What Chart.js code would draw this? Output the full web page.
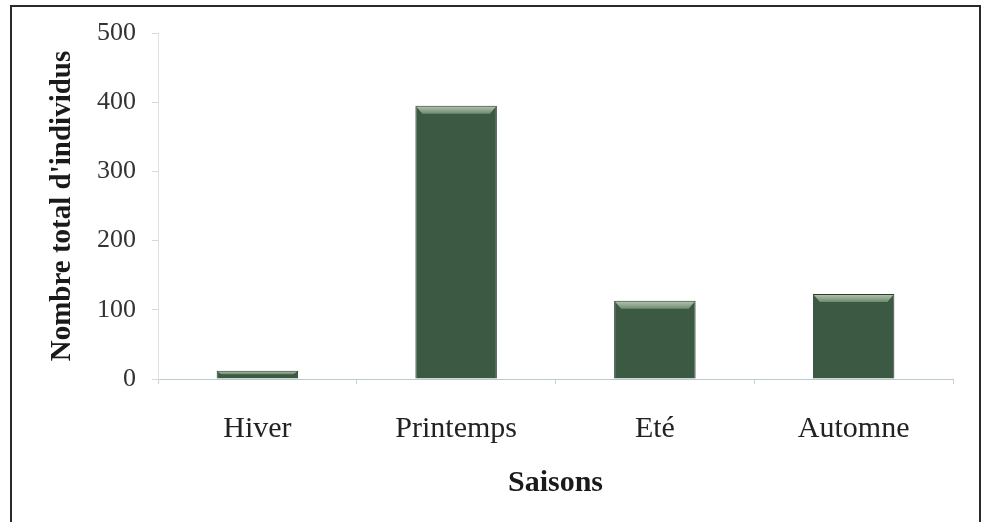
<!DOCTYPE html>
<html>
<head>
<meta charset="utf-8">
<script src="https://cdn.jsdelivr.net/npm/chart.js@4/dist/chart.umd.min.js"></script>
<style>
  html, body { margin: 0; padding: 0; background: #fff; overflow: hidden; }
  #wrap { position: relative; width: 982px; height: 522px; }
</style>
</head>
<body>
<div id="wrap"><canvas id="c" width="982" height="522"></canvas></div>
<script>
// Total number of individuals per season
const seasons = ['Hiver', 'Printemps', 'Eté', 'Automne'];
const totals = [12, 395, 113, 123];
const yTicks = [0, 100, 200, 300, 400, 500];

const serif = '"Liberation Serif", "Times New Roman", serif';

// Frame around the figure
const framePlugin = {
  id: 'frame',
  afterDraw(chart) {
    const ctx = chart.ctx;
    ctx.save();
    ctx.strokeStyle = '#2a2a2a';
    ctx.lineWidth = 2;
    ctx.strokeRect(11, 6, 969, 530);
    ctx.restore();
  }
};

// Lighter bevelled cap on top of each bar
const bevelPlugin = {
  id: 'bevel',
  afterDatasetsDraw(chart) {
    const ctx = chart.ctx;
    const meta = chart.getDatasetMeta(0);
    ctx.save();
    meta.data.forEach(bar => {
      const p = bar.getProps(['x', 'y', 'base', 'width'], true);
      const left = p.x - p.width / 2, right = p.x + p.width / 2;
      const h = Math.min(8, (p.base - p.y) * 0.45);
      const inset = Math.min(6, h);
      const g = ctx.createLinearGradient(0, p.y, 0, p.y + h);
      g.addColorStop(0, '#b9c9b2');
      g.addColorStop(1, '#6f8a70');
      ctx.fillStyle = g;
      ctx.beginPath();
      ctx.moveTo(left + 1, p.y + 1);
      ctx.lineTo(right - 1, p.y + 1);
      ctx.lineTo(right - 1 - inset, p.y + h);
      ctx.lineTo(left + 1 + inset, p.y + h);
      ctx.closePath();
      ctx.fill();
    });
    ctx.restore();
  }
};

new Chart(document.getElementById('c'), {
  type: 'bar',
  data: {
    labels: seasons,
    datasets: [{
      data: totals,
      backgroundColor: '#3c5943',
      borderColor: '#2b3f31',
      borderWidth: 1,
      barPercentage: 0.41,
      categoryPercentage: 1
    }]
  },
  options: {
    responsive: false,
    animation: false,
    layout: { padding: { top: 33, right: 29, bottom: 10, left: 20 } },
    plugins: { legend: { display: false }, tooltip: { enabled: false } },
    scales: {
      x: {
        grid: {
          display: true, drawOnChartArea: false, drawTicks: true,
          tickLength: 5, offset: true, color: '#c9d3d3'
        },
        border: { display: true, color: '#b8cccc', width: 1 },
        ticks: { color: '#222', font: { family: serif, size: 30 }, padding: 27 },
        title: {
          display: true, text: 'Saisons', color: '#1a1a1a',
          font: { family: serif, size: 30, weight: 'bold' },
          padding: { top: 10, bottom: 11 }
        },
        afterFit(scale) { scale.height = 133; }
      },
      y: {
        min: 0, max: 500,
        afterBuildTicks(scale) { scale.ticks = yTicks.map(v => ({ value: v })); },
        grid: {
          display: true, drawOnChartArea: false, drawTicks: true,
          tickLength: 6, color: '#d3dbdb'
        },
        border: { display: true, color: '#dde3e3', width: 1 },
        ticks: { color: '#333', font: { family: serif, size: 26 }, padding: 16 },
        title: {
          display: true, text: "Nombre total d'individus", color: '#1a1a1a',
          font: { family: serif, size: 29, weight: 'bold' },
          padding: { top: 25, bottom: 0 }
        },
        afterFit(scale) { scale.width = 138; }
      }
    }
  },
  plugins: [framePlugin, bevelPlugin]
});
</script>
</body>
</html>
